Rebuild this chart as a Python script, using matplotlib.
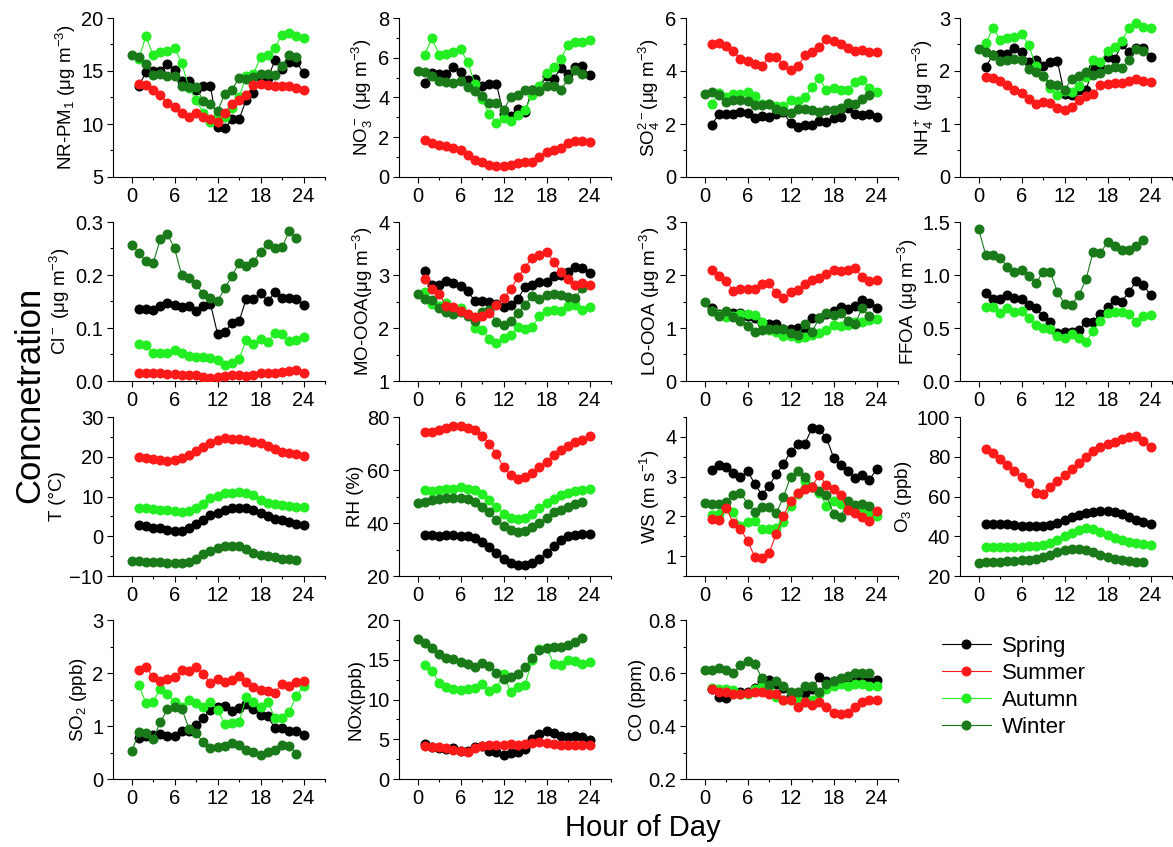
import matplotlib
matplotlib.use("Agg")
import matplotlib.pyplot as plt
from matplotlib.lines import Line2D
from matplotlib.ticker import MultipleLocator, AutoMinorLocator, FormatStrFormatter

plt.rcParams['font.family'] = ['Liberation Sans', 'DejaVu Sans']
plt.rcParams['mathtext.default'] = 'regular'

seasons = ['Spring', 'Summer', 'Autumn', 'Winter']
colors = ['#000000', '#FF1A1A', '#22EE22', '#1A7A1A']
hours_a = list(range(1, 25))   # Spring, Summer, Autumn
hours_w = list(range(0, 24))   # Winter

# ---------------- data ----------------
pm_sp = [13.57, 14.9, 14.98, 15.04, 15.7, 15.07, 14.04, 14.04, 13.2, 13.63, 13.57, 9.74, 9.58, 10.43, 10.43, 12.3, 12.94, 14.3, 14.3, 16.0, 15.2, 15.86, 15.86, 14.82]
pm_su = [13.79, 13.72, 13.2, 12.7, 12.0, 11.62, 11.06, 10.68, 11.0, 10.68, 10.5, 10.2, 11.0, 11.93, 12.3, 12.7, 13.72, 13.79, 13.72, 13.63, 13.57, 13.63, 13.4, 13.25]
pm_au = [16.17, 18.27, 16.49, 16.8, 16.86, 17.18, 15.76, 13.4, 12.3, 11.06, 10.2, 10.8, 10.65, 11.47, 12.53, 14.5, 14.7, 16.3, 16.55, 17.18, 18.43, 18.59, 18.27, 18.1]
pm_wi = [16.49, 16.3, 15.67, 14.6, 14.67, 14.57, 14.5, 13.6, 13.5, 13.47, 12.16, 11.93, 11.2, 12.85, 13.2, 14.35, 14.2, 14.4, 14.67, 14.7, 14.6, 15.5, 16.5, 16.3]

no3_sp = [4.75, 5.24, 5.2, 5.2, 5.54, 5.29, 4.89, 4.92, 4.59, 4.7, 4.7, 3.15, 3.08, 3.4, 3.28, 4.4, 4.49, 5.07, 4.92, 5.49, 5.2, 5.52, 5.57, 5.12]
no3_su = [1.84, 1.72, 1.61, 1.56, 1.47, 1.36, 1.09, 0.87, 0.75, 0.6, 0.55, 0.55, 0.6, 0.7, 0.77, 0.77, 1.02, 1.26, 1.34, 1.47, 1.72, 1.81, 1.81, 1.76]
no3_au = [6.16, 7.0, 6.16, 6.19, 6.28, 6.44, 5.77, 4.7, 3.9, 3.18, 2.73, 2.95, 2.81, 3.11, 3.35, 4.15, 4.6, 5.24, 5.54, 5.96, 6.63, 6.8, 6.78, 6.88]
no3_wi = [5.35, 5.29, 5.1, 4.85, 4.79, 4.72, 4.85, 4.54, 4.32, 4.07, 3.7, 3.7, 3.36, 4.03, 4.15, 4.4, 4.37, 4.33, 4.57, 4.57, 4.37, 4.95, 5.37, 5.2]

so4_sp = [1.98, 2.36, 2.38, 2.36, 2.46, 2.4, 2.23, 2.3, 2.26, 2.38, 2.45, 2.02, 1.88, 1.96, 1.98, 2.11, 2.08, 2.23, 2.26, 2.61, 2.36, 2.33, 2.36, 2.27]
so4_su = [5.02, 5.05, 4.93, 4.74, 4.47, 4.37, 4.27, 4.2, 4.53, 4.52, 4.24, 4.03, 4.17, 4.59, 4.72, 4.91, 5.22, 5.12, 5.02, 4.87, 4.77, 4.81, 4.71, 4.72]
so4_au = [2.77, 3.18, 3.01, 3.14, 3.15, 3.21, 3.05, 2.75, 2.77, 2.67, 2.67, 2.89, 2.86, 3.01, 3.39, 3.74, 3.28, 3.36, 3.28, 3.3, 3.59, 3.65, 3.36, 3.21]
so4_wi = [3.15, 3.2, 3.11, 2.82, 2.92, 2.92, 2.86, 2.7, 2.7, 2.77, 2.55, 2.49, 2.42, 2.57, 2.55, 2.51, 2.46, 2.51, 2.51, 2.61, 2.8, 2.77, 2.95, 3.09]

nh4_sp = [2.08, 2.3, 2.32, 2.33, 2.44, 2.35, 2.17, 2.21, 2.1, 2.17, 2.18, 1.57, 1.54, 1.65, 1.65, 2.05, 2.08, 2.26, 2.23, 2.5, 2.35, 2.44, 2.44, 2.27]
nh4_su = [1.89, 1.86, 1.81, 1.73, 1.64, 1.58, 1.47, 1.38, 1.42, 1.39, 1.31, 1.26, 1.32, 1.46, 1.53, 1.57, 1.73, 1.76, 1.78, 1.78, 1.81, 1.84, 1.81, 1.8]
nh4_au = [2.52, 2.81, 2.59, 2.62, 2.64, 2.7, 2.49, 2.09, 1.9, 1.68, 1.54, 1.62, 1.6, 1.71, 1.88, 2.2, 2.17, 2.38, 2.45, 2.56, 2.82, 2.9, 2.83, 2.81]
nh4_wi = [2.42, 2.35, 2.3, 2.18, 2.21, 2.22, 2.21, 2.04, 1.99, 1.91, 1.76, 1.74, 1.64, 1.85, 1.91, 1.98, 1.93, 1.96, 2.04, 2.07, 2.05, 2.21, 2.42, 2.37]

cl_sp = [0.136, 0.136, 0.134, 0.141, 0.147, 0.144, 0.139, 0.142, 0.1325, 0.142, 0.146, 0.089, 0.0925, 0.109, 0.1125, 0.155, 0.155, 0.166, 0.151, 0.167, 0.1575, 0.156, 0.155, 0.144]
cl_su = [0.016, 0.016, 0.015, 0.015, 0.014, 0.013, 0.012, 0.012, 0.012, 0.007, 0.006, 0.008, 0.009, 0.012, 0.012, 0.009, 0.012, 0.015, 0.015, 0.015, 0.017, 0.018, 0.02, 0.016]
cl_au = [0.069, 0.0675, 0.052, 0.053, 0.053, 0.059, 0.053, 0.047, 0.046, 0.045, 0.0425, 0.039, 0.031, 0.034, 0.041, 0.078, 0.07, 0.08, 0.074, 0.091, 0.089, 0.075, 0.077, 0.083]
cl_wi = [0.2575, 0.242, 0.226, 0.222, 0.2675, 0.277, 0.25, 0.2, 0.195, 0.183, 0.164, 0.156, 0.15, 0.175, 0.198, 0.223, 0.2175, 0.225, 0.244, 0.259, 0.25, 0.252, 0.2825, 0.269]

mo_sp = [3.08, 2.82, 2.82, 2.88, 2.85, 2.79, 2.69, 2.51, 2.51, 2.5, 2.45, 2.39, 2.44, 2.55, 2.78, 2.81, 2.86, 2.86, 2.99, 3.0, 3.06, 3.16, 3.14, 3.03]
mo_su = [2.93, 2.74, 2.64, 2.42, 2.39, 2.33, 2.27, 2.2, 2.23, 2.29, 2.44, 2.56, 2.73, 2.96, 3.14, 3.33, 3.38, 3.44, 3.25, 3.06, 2.93, 2.82, 2.84, 2.81]
mo_au = [2.68, 2.46, 2.42, 2.47, 2.38, 2.38, 2.25, 2.0, 1.97, 1.8, 1.71, 1.81, 1.86, 2.01, 1.98, 2.02, 2.22, 2.33, 2.34, 2.33, 2.41, 2.44, 2.34, 2.39]
mo_wi = [2.64, 2.54, 2.52, 2.38, 2.31, 2.26, 2.31, 2.23, 2.13, 2.31, 2.34, 2.11, 2.06, 2.13, 2.29, 2.44, 2.61, 2.55, 2.63, 2.64, 2.62, 2.59, 2.57, 2.76]

lo_sp = [1.38, 1.27, 1.3, 1.29, 1.29, 1.22, 1.18, 1.1, 1.07, 1.07, 0.99, 0.98, 1.0, 1.0, 1.18, 1.18, 1.26, 1.32, 1.39, 1.35, 1.42, 1.53, 1.48, 1.37]
lo_su = [2.1, 1.98, 1.89, 1.7, 1.73, 1.73, 1.73, 1.83, 1.84, 1.66, 1.56, 1.67, 1.71, 1.83, 1.91, 1.95, 2.01, 2.09, 2.08, 2.09, 2.13, 1.96, 1.89, 1.91]
lo_au = [1.32, 1.24, 1.21, 1.22, 1.26, 1.26, 1.24, 1.12, 0.97, 0.93, 0.85, 0.85, 0.82, 0.83, 0.87, 0.9, 0.96, 1.05, 1.04, 1.05, 1.12, 1.12, 1.15, 1.17]
lo_wi = [1.49, 1.32, 1.22, 1.32, 1.21, 1.14, 1.04, 0.93, 0.96, 0.98, 0.98, 0.98, 0.91, 0.87, 1.07, 0.93, 1.19, 1.29, 1.24, 1.29, 1.13, 1.07, 1.38, 1.22]

ff_sp = [0.83, 0.77, 0.77, 0.81, 0.78, 0.77, 0.72, 0.69, 0.61, 0.56, 0.45, 0.46, 0.46, 0.48, 0.56, 0.56, 0.63, 0.7, 0.76, 0.75, 0.84, 0.94, 0.91, 0.81]
ff_au = [0.7, 0.7, 0.64, 0.69, 0.65, 0.66, 0.59, 0.53, 0.5, 0.49, 0.42, 0.41, 0.44, 0.41, 0.37, 0.47, 0.57, 0.64, 0.65, 0.65, 0.63, 0.56, 0.61, 0.62]
ff_wi = [1.43, 1.19, 1.19, 1.16, 1.08, 1.03, 1.05, 0.99, 0.92, 1.03, 1.03, 0.84, 0.73, 0.72, 0.81, 0.96, 1.22, 1.21, 1.31, 1.27, 1.24, 1.24, 1.27, 1.33]

t_sp = [2.8, 2.55, 2.2, 2.0, 1.55, 1.3, 1.3, 2.0, 3.05, 4.2, 5.3, 5.9, 6.7, 7.15, 7.15, 7.15, 6.7, 5.9, 5.0, 4.4, 4.0, 3.6, 3.2, 2.8]
t_su = [19.96, 19.7, 19.4, 19.1, 18.9, 19.1, 19.7, 20.5, 21.5, 22.5, 23.5, 24.1, 24.6, 24.4, 24.4, 24.1, 23.7, 23.5, 22.7, 22.0, 21.3, 20.9, 20.6, 20.2]
t_au = [7.15, 7.0, 6.8, 6.7, 6.6, 6.4, 6.15, 6.4, 7.0, 8.1, 9.5, 10.2, 10.9, 11.0, 11.2, 10.9, 10.3, 9.1, 8.4, 8.0, 7.8, 7.7, 7.4, 7.3]
t_wi = [-6.2, -6.3, -6.4, -6.4, -6.6, -6.7, -6.7, -6.7, -6.4, -5.8, -4.5, -3.6, -2.9, -2.5, -2.4, -2.4, -3.2, -4.1, -4.6, -4.9, -5.3, -5.6, -5.8, -5.9]

rh_sp = [35.5, 35.5, 35, 35.5, 35.5, 35, 35, 34.5, 33, 31, 28.5, 26.5, 25, 24, 24, 25, 26.5, 28.5, 31.5, 33.5, 35, 35.5, 36, 36]
rh_su = [74.5, 74.5, 75, 76, 76.5, 76.5, 76, 75, 73, 70, 66, 61, 58, 56.5, 57.5, 59, 61, 63, 65.5, 67.5, 69, 70.5, 71.5, 73]
rh_au = [52.5, 52, 52.5, 53, 53, 53.5, 53, 52.5, 51, 48.5, 46, 43.5, 42, 41.5, 42, 43.5, 45.5, 47.5, 49, 50.5, 51.5, 52, 52.5, 53]
rh_wi = [47.5, 48, 48.5, 49, 49.5, 49.5, 49.5, 49, 48, 46, 44, 41, 39, 37.5, 36.5, 37, 38.5, 40, 42, 44, 45, 46, 47, 48]

ws_sp = [3.17, 3.28, 3.25, 3.08, 2.98, 3.14, 2.82, 2.54, 2.77, 3.06, 3.31, 3.63, 3.81, 3.83, 4.22, 4.19, 3.98, 3.48, 3.28, 3.15, 2.96, 3.03, 2.92, 3.18]
ws_su = [1.93, 1.92, 2.21, 1.83, 1.69, 1.38, 0.98, 0.96, 1.08, 1.56, 2.0, 2.39, 2.6, 2.69, 2.75, 3.04, 2.79, 2.68, 2.54, 2.15, 2.08, 1.98, 1.88, 2.14]
ws_au = [2.04, 2.07, 2.2, 2.1, 1.77, 1.85, 1.89, 1.67, 1.68, 1.71, 1.85, 2.27, 2.56, 2.9, 2.75, 2.6, 2.27, 2.38, 2.31, 2.2, 2.11, 2.11, 2.08, 2.0]
ws_wi = [2.33, 2.31, 2.31, 2.36, 2.54, 2.6, 2.31, 2.11, 2.23, 2.23, 2.08, 2.48, 3.0, 3.15, 3.0, 2.75, 2.64, 2.54, 2.07, 1.98, 2.38, 2.28, 2.31, 2.27]

o3_sp = [46, 46, 46, 46, 45.5, 45, 45, 45, 45, 45.5, 46.5, 48, 49.5, 50.5, 51.5, 52, 52.5, 52.5, 52, 51, 49.5, 48, 47, 46]
o3_su = [84, 82, 79, 76, 73, 70, 67, 62, 61.5, 65, 68, 71, 74, 77, 80, 83, 85, 86.5, 87.5, 89, 90, 90.5, 88, 85]
o3_au = [34.5, 34.5, 34.5, 34.5, 34.5, 34.5, 35, 35, 35.5, 36.5, 38, 40, 41.5, 43, 44, 43.5, 42, 40.5, 39, 38, 37, 36.5, 36, 35.5]
o3_wi = [26.5, 27, 27, 27, 27.5, 27.5, 28, 28, 28.5, 29.5, 30.5, 32, 33, 33.5, 33.5, 33, 32, 30.5, 29.5, 28.5, 28, 27.5, 27, 27]

so2_sp = [0.78, 0.81, 0.83, 0.85, 0.82, 0.82, 0.91, 0.9, 1.01, 1.16, 1.3, 1.35, 1.38, 1.29, 1.34, 1.42, 1.33, 1.21, 1.18, 0.96, 0.97, 0.9, 0.9, 0.83]
so2_su = [2.06, 2.11, 1.92, 1.85, 1.88, 1.93, 2.06, 2.04, 2.11, 1.98, 1.81, 1.89, 1.83, 1.86, 1.95, 1.83, 1.73, 1.68, 1.66, 1.63, 1.79, 1.76, 1.83, 1.85]
so2_au = [1.78, 1.43, 1.46, 1.7, 1.61, 1.45, 1.35, 1.49, 1.44, 1.35, 1.46, 1.3, 1.04, 1.05, 1.07, 1.55, 1.46, 1.36, 1.46, 1.15, 1.15, 1.27, 1.57, 1.75]
so2_wi = [0.52, 0.88, 0.86, 0.76, 1.07, 1.32, 1.35, 1.33, 0.95, 0.86, 0.69, 0.58, 0.61, 0.63, 0.67, 0.65, 0.55, 0.51, 0.46, 0.51, 0.55, 0.65, 0.63, 0.48]

nox_sp = [4.39, 4.02, 3.89, 3.77, 3.89, 3.56, 3.47, 3.97, 4.1, 3.47, 3.35, 3.05, 3.26, 3.35, 3.77, 5.06, 5.69, 5.98, 5.77, 5.36, 5.27, 5.44, 5.23, 4.85]
nox_su = [4.18, 4.02, 3.97, 3.89, 3.68, 3.47, 3.39, 3.89, 4.18, 4.31, 4.31, 4.23, 4.39, 4.31, 4.39, 4.52, 4.64, 4.52, 4.44, 4.31, 4.31, 4.23, 4.31, 4.31]
nox_au = [14.35, 13.6, 12.13, 11.55, 11.3, 11.21, 11.3, 11.42, 11.97, 11.09, 11.42, 13.22, 10.92, 11.55, 11.84, 14.98, 16.32, 16.53, 14.48, 14.35, 14.98, 14.9, 14.44, 14.77]
nox_wi = [17.6, 17.07, 16.53, 15.73, 15.19, 15.06, 14.77, 14.48, 14.06, 14.56, 14.27, 13.39, 12.59, 12.89, 13.22, 14.06, 15.19, 16.23, 16.53, 16.57, 16.57, 16.86, 17.28, 17.78]

co_sp = [0.54, 0.51, 0.505, 0.525, 0.53, 0.53, 0.545, 0.57, 0.575, 0.56, 0.545, 0.515, 0.525, 0.525, 0.54, 0.585, 0.57, 0.57, 0.575, 0.57, 0.58, 0.57, 0.57, 0.575]
co_su = [0.54, 0.53, 0.53, 0.52, 0.52, 0.525, 0.53, 0.53, 0.52, 0.52, 0.5, 0.5, 0.47, 0.49, 0.48, 0.49, 0.47, 0.45, 0.445, 0.45, 0.47, 0.49, 0.5, 0.5]
co_au = [0.545, 0.54, 0.54, 0.535, 0.52, 0.52, 0.54, 0.55, 0.545, 0.51, 0.5, 0.5, 0.5, 0.49, 0.5, 0.52, 0.54, 0.55, 0.56, 0.55, 0.56, 0.56, 0.55, 0.55]
co_wi = [0.61, 0.61, 0.62, 0.61, 0.6, 0.63, 0.645, 0.635, 0.58, 0.555, 0.57, 0.55, 0.53, 0.53, 0.55, 0.55, 0.53, 0.56, 0.57, 0.58, 0.59, 0.6, 0.6, 0.6]

ylabels = [
    'NR-PM$_1$ (\u03bcg m$^{-3}$)', 'NO$_3^-$ (\u03bcg m$^{-3}$)', 'SO$_4^{2-}$(\u03bcg m$^{-3}$)', 'NH$_4^+$ (\u03bcg m$^{-3}$)',
    'Cl$^-$ (\u03bcg m$^{-3}$)', 'MO-OOA(\u03bcg m$^{-3}$)', 'LO-OOA (\u03bcg m$^{-3}$)', 'FFOA (\u03bcg m$^{-3}$)',
    'T (\u00b0C)', 'RH (%)', 'WS (m s$^{-1}$)', 'O$_3$ (ppb)',
    'SO$_2$ (ppb)', 'NOx(ppb)', 'CO (ppm)',
]
ylims = [(5, 20), (0, 8), (0, 6), (0, 3), (0, 0.3), (1, 4), (0, 3), (0, 1.5),
         (-10, 30), (20, 80), (0.5, 4.5), (20, 100), (0, 3), (0, 20), (0.2, 0.8)]
ysteps = [5, 2, 2, 1, 0.1, 1, 1, 0.5, 10, 20, 1, 20, 1, 5, 0.2]
yfmt = [None, None, None, None, '%.1f', None, None, '%.1f', None, None, None, None, None, None, '%.1f']

panels = [
    [pm_sp, pm_su, pm_au, pm_wi],
    [no3_sp, no3_su, no3_au, no3_wi],
    [so4_sp, so4_su, so4_au, so4_wi],
    [nh4_sp, nh4_su, nh4_au, nh4_wi],
    [cl_sp, cl_su, cl_au, cl_wi],
    [mo_sp, mo_su, mo_au, mo_wi],
    [lo_sp, lo_su, lo_au, lo_wi],
    [ff_sp, None, ff_au, ff_wi],
    [t_sp, t_su, t_au, t_wi],
    [rh_sp, rh_su, rh_au, rh_wi],
    [ws_sp, ws_su, ws_au, ws_wi],
    [o3_sp, o3_su, o3_au, o3_wi],
    [so2_sp, so2_su, so2_au, so2_wi],
    [nox_sp, nox_su, nox_au, nox_wi],
    [co_sp, co_su, co_au, co_wi],
]

# ---------------- layout ----------------
W, H = 1173, 847
fig = plt.figure(figsize=(W / 100, H / 100), dpi=100)
col_left = [113, 399, 686, 960]
col_w = 212
row_top = [18, 222, 417, 620]
row_h = 159

FS = 14.5
LFS = 13.5
for i, series in enumerate(panels):
    r, c = divmod(i, 4)
    ax = fig.add_axes([col_left[c] / W, 1 - (row_top[r] + row_h) / H, col_w / W, row_h / H])
    for k, vals in enumerate(series):
        if vals is None:
            continue
        hrs = hours_w if k == 3 else hours_a
        ax.plot(hrs, vals, '-', color=colors[k], lw=0.8, marker='o', ms=6.2,
                mec=colors[k], mfc=colors[k], zorder=3 + (k == 1))
    ax.set_xlim(-2.6, 27)
    ax.set_ylim(*ylims[i])
    ax.xaxis.set_major_locator(MultipleLocator(6))
    ax.xaxis.set_minor_locator(MultipleLocator(3))
    ax.yaxis.set_major_locator(MultipleLocator(ysteps[i]))
    ax.yaxis.set_minor_locator(AutoMinorLocator(2))
    if yfmt[i]:
        ax.yaxis.set_major_formatter(FormatStrFormatter(yfmt[i]))
    for s in ['top', 'right']:
        ax.spines[s].set_visible(False)
    for s in ['left', 'bottom']:
        ax.spines[s].set_linewidth(0.8)
    ax.tick_params(which='major', direction='out', length=4, width=0.8, labelsize=FS, pad=3)
    ax.tick_params(which='minor', direction='out', length=2.5, width=0.8)
    ax.set_ylabel(ylabels[i], fontsize=LFS, labelpad=2)

handles = [Line2D([0], [0], color=colors[k], lw=0.8, marker='o', ms=6.2) for k in range(4)]
fig.legend(handles, seasons, loc='upper left', bbox_to_anchor=(922 / W, 1 - 616 / H),
           frameon=False, fontsize=16, handlelength=2.2, labelspacing=0.27, handletextpad=0.5)

fig.text(30 / W, 1 - 395 / H, 'Concnetration', rotation=90, fontsize=25, ha='center', va='center')
fig.text(643 / W, 1 - 828 / H, 'Hour of Day', fontsize=21, ha='center', va='center')

fig.savefig('out.png', dpi=100)
